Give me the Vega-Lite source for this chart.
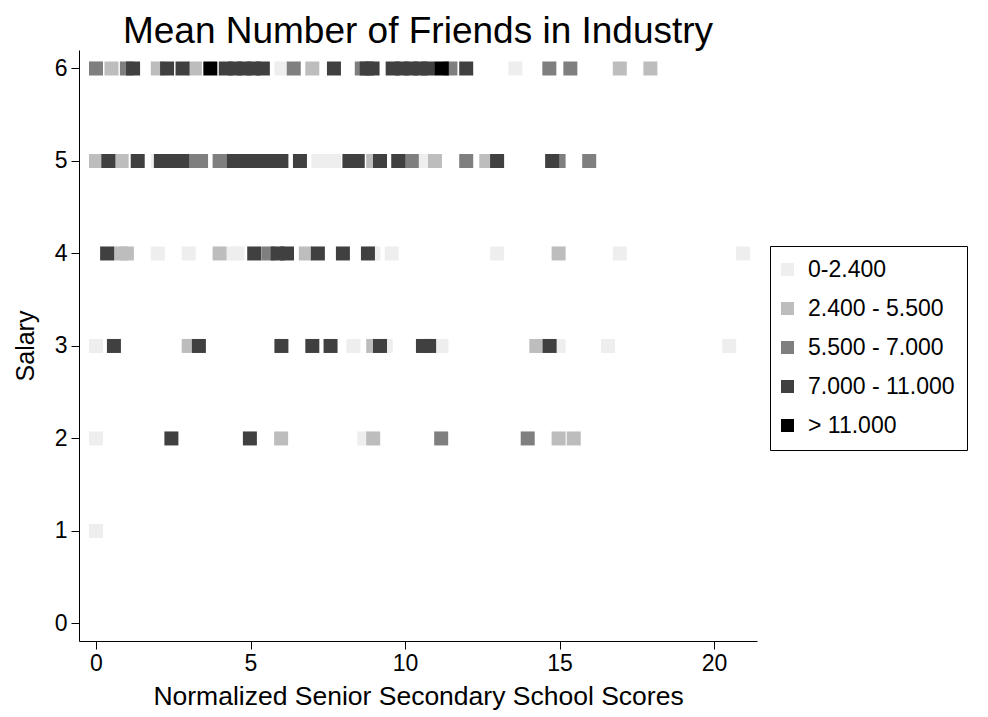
{
  "$schema": "https://vega.github.io/schema/vega-lite/v6.json",
  "autosize": {"type": "none"},
  "padding": {"left": 79, "top": 50, "right": 231, "bottom": 76},
  "width": 678,
  "height": 591,
  "background": "white",
  "title": {"text": "Mean Number of Friends in Industry", "fontSize": 37, "font": "Liberation Sans", "fontWeight": "normal", "color": "black", "anchor": "middle", "offset": -1},
  "config": {"view": {"stroke": null}, "font": "Liberation Sans"},
  "data": {"values": [
    {"x": 0.0, "y": 6, "g": "0-2.400"}, {"x": 6.0, "y": 6, "g": "0-2.400"}, {"x": 13.57, "y": 6, "g": "0-2.400"},
    {"x": 2.0, "y": 5, "g": "0-2.400"}, {"x": 7.2, "y": 5, "g": "0-2.400"}, {"x": 7.45, "y": 5, "g": "0-2.400"}, {"x": 7.7, "y": 5, "g": "0-2.400"}, {"x": 10.66, "y": 5, "g": "0-2.400"},
    {"x": 2.0, "y": 4, "g": "0-2.400"}, {"x": 3.0, "y": 4, "g": "0-2.400"}, {"x": 4.45, "y": 4, "g": "0-2.400"}, {"x": 4.58, "y": 4, "g": "0-2.400"}, {"x": 8.98, "y": 4, "g": "0-2.400"}, {"x": 9.57, "y": 4, "g": "0-2.400"}, {"x": 12.98, "y": 4, "g": "0-2.400"}, {"x": 16.95, "y": 4, "g": "0-2.400"}, {"x": 20.94, "y": 4, "g": "0-2.400"},
    {"x": 0.0, "y": 3, "g": "0-2.400"}, {"x": 8.33, "y": 3, "g": "0-2.400"}, {"x": 9.38, "y": 3, "g": "0-2.400"}, {"x": 11.18, "y": 3, "g": "0-2.400"}, {"x": 14.97, "y": 3, "g": "0-2.400"}, {"x": 16.57, "y": 3, "g": "0-2.400"}, {"x": 20.49, "y": 3, "g": "0-2.400"},
    {"x": 0.0, "y": 2, "g": "0-2.400"}, {"x": 8.68, "y": 2, "g": "0-2.400"},
    {"x": 0.0, "y": 1, "g": "0-2.400"},
    {"x": 0.5, "y": 6, "g": "2.400 - 5.500"}, {"x": 2.0, "y": 6, "g": "2.400 - 5.500"}, {"x": 3.2, "y": 6, "g": "2.400 - 5.500"}, {"x": 7.0, "y": 6, "g": "2.400 - 5.500"}, {"x": 16.95, "y": 6, "g": "2.400 - 5.500"}, {"x": 17.94, "y": 6, "g": "2.400 - 5.500"},
    {"x": 0.0, "y": 5, "g": "2.400 - 5.500"}, {"x": 0.83, "y": 5, "g": "2.400 - 5.500"}, {"x": 8.97, "y": 5, "g": "2.400 - 5.500"}, {"x": 10.97, "y": 5, "g": "2.400 - 5.500"}, {"x": 12.63, "y": 5, "g": "2.400 - 5.500"},
    {"x": 0.81, "y": 4, "g": "2.400 - 5.500"}, {"x": 1.0, "y": 4, "g": "2.400 - 5.500"}, {"x": 4.0, "y": 4, "g": "2.400 - 5.500"}, {"x": 6.79, "y": 4, "g": "2.400 - 5.500"}, {"x": 14.97, "y": 4, "g": "2.400 - 5.500"},
    {"x": 3.0, "y": 3, "g": "2.400 - 5.500"}, {"x": 8.97, "y": 3, "g": "2.400 - 5.500"}, {"x": 14.25, "y": 3, "g": "2.400 - 5.500"},
    {"x": 5.99, "y": 2, "g": "2.400 - 5.500"}, {"x": 8.97, "y": 2, "g": "2.400 - 5.500"}, {"x": 14.97, "y": 2, "g": "2.400 - 5.500"}, {"x": 15.46, "y": 2, "g": "2.400 - 5.500"},
    {"x": 0.0, "y": 6, "g": "5.500 - 7.000"}, {"x": 1.0, "y": 6, "g": "5.500 - 7.000"}, {"x": 6.4, "y": 6, "g": "5.500 - 7.000"}, {"x": 8.6, "y": 6, "g": "5.500 - 7.000"}, {"x": 11.47, "y": 6, "g": "5.500 - 7.000"}, {"x": 14.67, "y": 6, "g": "5.500 - 7.000"}, {"x": 15.35, "y": 6, "g": "5.500 - 7.000"},
    {"x": 3.25, "y": 5, "g": "5.500 - 7.000"}, {"x": 3.4, "y": 5, "g": "5.500 - 7.000"}, {"x": 4.0, "y": 5, "g": "5.500 - 7.000"}, {"x": 10.22, "y": 5, "g": "5.500 - 7.000"}, {"x": 11.98, "y": 5, "g": "5.500 - 7.000"}, {"x": 14.97, "y": 5, "g": "5.500 - 7.000"}, {"x": 15.96, "y": 5, "g": "5.500 - 7.000"},
    {"x": 5.58, "y": 4, "g": "5.500 - 7.000"},
    {"x": 11.17, "y": 2, "g": "5.500 - 7.000"}, {"x": 13.97, "y": 2, "g": "5.500 - 7.000"},
    {"x": 1.2, "y": 6, "g": "7.000 - 11.000"}, {"x": 2.3, "y": 6, "g": "7.000 - 11.000"}, {"x": 2.8, "y": 6, "g": "7.000 - 11.000"}, {"x": 4.2, "y": 6, "g": "7.000 - 11.000"}, {"x": 4.5, "y": 6, "g": "7.000 - 11.000"}, {"x": 4.8, "y": 6, "g": "7.000 - 11.000"}, {"x": 5.1, "y": 6, "g": "7.000 - 11.000"}, {"x": 5.4, "y": 6, "g": "7.000 - 11.000"}, {"x": 7.7, "y": 6, "g": "7.000 - 11.000"}, {"x": 8.76, "y": 6, "g": "7.000 - 11.000"}, {"x": 8.95, "y": 6, "g": "7.000 - 11.000"}, {"x": 9.6, "y": 6, "g": "7.000 - 11.000"}, {"x": 9.9, "y": 6, "g": "7.000 - 11.000"}, {"x": 10.2, "y": 6, "g": "7.000 - 11.000"}, {"x": 10.5, "y": 6, "g": "7.000 - 11.000"}, {"x": 10.75, "y": 6, "g": "7.000 - 11.000"}, {"x": 11.98, "y": 6, "g": "7.000 - 11.000"},
    {"x": 0.4, "y": 5, "g": "7.000 - 11.000"}, {"x": 1.35, "y": 5, "g": "7.000 - 11.000"}, {"x": 2.1, "y": 5, "g": "7.000 - 11.000"}, {"x": 2.35, "y": 5, "g": "7.000 - 11.000"}, {"x": 2.6, "y": 5, "g": "7.000 - 11.000"}, {"x": 2.8, "y": 5, "g": "7.000 - 11.000"}, {"x": 4.45, "y": 5, "g": "7.000 - 11.000"}, {"x": 4.75, "y": 5, "g": "7.000 - 11.000"}, {"x": 5.0, "y": 5, "g": "7.000 - 11.000"}, {"x": 5.25, "y": 5, "g": "7.000 - 11.000"}, {"x": 5.5, "y": 5, "g": "7.000 - 11.000"}, {"x": 5.75, "y": 5, "g": "7.000 - 11.000"}, {"x": 6.0, "y": 5, "g": "7.000 - 11.000"}, {"x": 6.6, "y": 5, "g": "7.000 - 11.000"}, {"x": 8.2, "y": 5, "g": "7.000 - 11.000"}, {"x": 8.47, "y": 5, "g": "7.000 - 11.000"}, {"x": 9.19, "y": 5, "g": "7.000 - 11.000"}, {"x": 9.78, "y": 5, "g": "7.000 - 11.000"}, {"x": 12.98, "y": 5, "g": "7.000 - 11.000"}, {"x": 14.76, "y": 5, "g": "7.000 - 11.000"},
    {"x": 0.36, "y": 4, "g": "7.000 - 11.000"}, {"x": 5.12, "y": 4, "g": "7.000 - 11.000"}, {"x": 5.88, "y": 4, "g": "7.000 - 11.000"}, {"x": 6.18, "y": 4, "g": "7.000 - 11.000"}, {"x": 7.18, "y": 4, "g": "7.000 - 11.000"}, {"x": 7.99, "y": 4, "g": "7.000 - 11.000"}, {"x": 8.8, "y": 4, "g": "7.000 - 11.000"},
    {"x": 0.58, "y": 3, "g": "7.000 - 11.000"}, {"x": 3.33, "y": 3, "g": "7.000 - 11.000"}, {"x": 6.0, "y": 3, "g": "7.000 - 11.000"}, {"x": 7.0, "y": 3, "g": "7.000 - 11.000"}, {"x": 7.59, "y": 3, "g": "7.000 - 11.000"}, {"x": 9.19, "y": 3, "g": "7.000 - 11.000"}, {"x": 10.58, "y": 3, "g": "7.000 - 11.000"}, {"x": 10.78, "y": 3, "g": "7.000 - 11.000"}, {"x": 14.68, "y": 3, "g": "7.000 - 11.000"},
    {"x": 2.44, "y": 2, "g": "7.000 - 11.000"}, {"x": 4.98, "y": 2, "g": "7.000 - 11.000"},
    {"x": 3.7, "y": 6, "g": "> 11.000"}, {"x": 11.19, "y": 6, "g": "> 11.000"}
  ]},
  "mark": {"type": "point", "shape": "square", "filled": true, "opacity": 1, "size": 196},
  "encoding": {
    "x": {"field": "x", "type": "quantitative",
      "scale": {"domain": [-0.55, 21.39], "nice": false, "zero": false},
      "axis": {"values": [0, 5, 10, 15, 20], "grid": false, "title": "Normalized Senior Secondary School Scores", "titleFontSize": 26.5, "titleFontWeight": "normal", "titleColor": "black", "titlePadding": 8, "labelFontSize": 23, "labelColor": "black", "labelPadding": 3, "tickSize": 8, "tickColor": "black", "domainColor": "black", "labelFlush": false}},
    "y": {"field": "y", "type": "quantitative",
      "scale": {"domain": [-0.19, 6.2], "nice": false, "zero": false},
      "axis": {"values": [0, 1, 2, 3, 4, 5, 6], "grid": false, "title": "Salary", "titleFontSize": 25, "titleFontWeight": "normal", "titleColor": "black", "titlePadding": 16, "labelFontSize": 23, "labelColor": "black", "labelPadding": 4, "tickSize": 8, "tickColor": "black", "domainColor": "black", "labelFlush": false}},
    "color": {"field": "g", "type": "nominal",
      "scale": {"domain": ["0-2.400", "2.400 - 5.500", "5.500 - 7.000", "7.000 - 11.000", "> 11.000"], "range": ["#eeeeee", "#bdbdbd", "#7f7f7f", "#404040", "#000000"]},
      "legend": {"title": null, "orient": "none", "legendX": 691, "legendY": 196, "strokeColor": "black", "padding": 12, "labelFontSize": 23, "labelColor": "black", "symbolType": "square", "symbolSize": 170, "symbolStrokeWidth": 0, "symbolOffset": -6, "rowPadding": 15, "labelOffset": 9, "labelLimit": 300, "labelExpr": "datum.label + '\u00a0\u00a0\u00a0\u00a0'"}}
  }
}
